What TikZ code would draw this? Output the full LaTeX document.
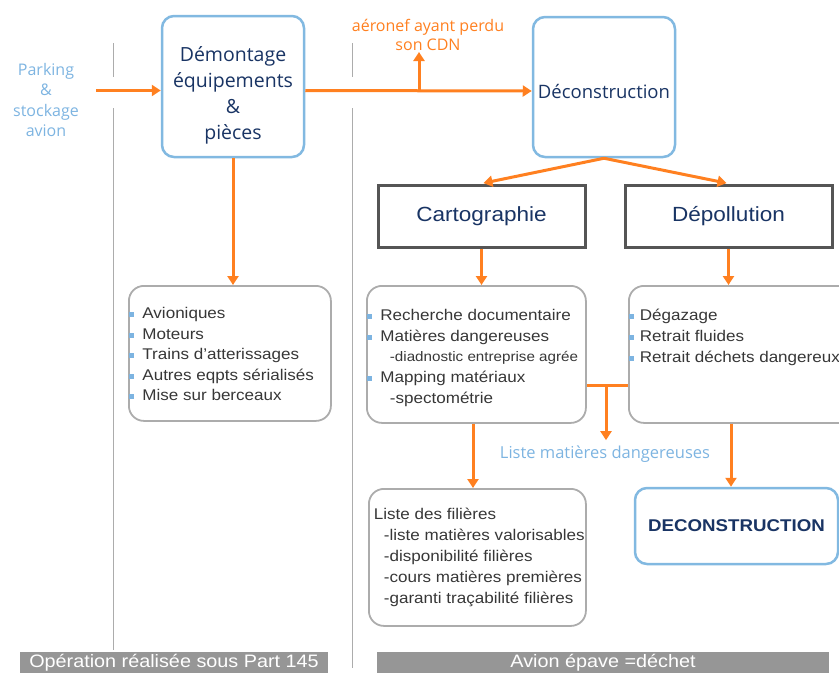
\documentclass[tikz,border=0pt]{standalone}
\usepackage{fontspec}
\setmainfont{Liberation Sans}[FakeStretch=1.1]
\newfontfamily\ouvert{Open Sans}
\usetikzlibrary{arrows.meta,positioning,calc}
\definecolor{orangeflux}{RGB}{255,128,32}
\definecolor{cadrebleu}{RGB}{130,185,225}
\definecolor{bleunuit}{RGB}{25,52,100}
\definecolor{bleuclair}{RGB}{125,180,225}
\definecolor{grisliste}{RGB}{172,172,172}
\definecolor{grisfonce}{RGB}{85,85,85}
\definecolor{gristexte}{RGB}{55,55,55}
\definecolor{grisbande}{RGB}{150,150,150}

\newcommand{\fsize}[2]{\fontsize{#1}{#2}\selectfont}
\newcommand{\puce}[1][13.5pt]{\makebox[#1][l]{\textcolor{bleuclair}{\rule[1.5pt]{5pt}{5pt}}}}

\begin{document}
\begin{tikzpicture}[
      x=1pt, y=-1pt,
      bleubox/.style={rectangle, draw=cadrebleu, line width=2.5pt, rounded corners=12pt, fill=white, text=bleunuit, align=center},
      titrebox/.style={rectangle, draw=grisfonce, line width=3pt, fill=white, text=bleunuit, minimum width=207pt, minimum height=62pt, font=\fsize{20.5}{24}},
      listebox/.style={rectangle, draw=grisliste, line width=1.8pt, rounded corners=15pt, anchor=north west, inner sep=0pt, text=gristexte},
      bandeau/.style={rectangle, fill=grisbande, text=white, inner sep=0pt, minimum height=21pt, font=\fsize{18}{20}},
      fleche/.style={-{Triangle[length=9pt,width=11pt]}, line width=3pt, orangeflux},
      trait/.style={line width=3pt, orangeflux},
      separ/.style={draw=grisliste, line width=0.8pt}
    ]
      \useasboundingbox (0,0) rectangle (839,675);
      % separations
      \draw[separ] (113,43) -- (113,77) (113,108) -- (113,650);
      \draw[separ] (352,43) -- (352,77) (352,108) -- (352,668);

      % haut
      \node[text=bleuclair, align=center, font=\ouvert\fsize{16}{20.3}] (parking) at (46,100) {Parking\\\&\\stockage\\avion};
      \node[bleubox, minimum width=142pt, minimum height=141pt, font=\ouvert\fsize{19.5}{26}] (dem) at (233,86.5) {\rule{0pt}{32.5pt}Démontage\\équipements\\\&\\pièces};
      \node[bleubox, minimum width=142pt, minimum height=140pt, font=\ouvert\fsize{18.5}{22}] (decon) at (604,87) {\rule{0pt}{23.5pt}Déconstruction};
      \node[text=orangeflux, align=center, anchor=south, inner sep=1pt, font=\ouvert\fsize{16}{19}] (cdn) at (428,52) {aéronef ayant perdu\\son CDN};
      \coordinate (branche) at (419,91);

      \node[titrebox] (carto) at (481.5,216) {Cartographie};
      \node[titrebox] (depol) at (728.5,216) {Dépollution};

      % listes
      \node[listebox] (l_dem) at (128,285) {\parbox[t][135pt][t]{202pt}{\fsize{15.5}{20.5}%
        \rule{0pt}{33pt}\puce Avioniques\\
        \puce Moteurs\\
        \puce Trains d'atterissages\\
        \puce Autres eqpts sérialisés\\
        \puce Mise sur berceaux}};
      \node[listebox] (l_carto) at (366,285) {\parbox[t][137pt][t]{219pt}{\fsize{15.5}{20.7}%
        \rule{0pt}{34.5pt}\puce Recherche documentaire\\
        \puce Matières dangereuses\\
        \hspace*{23pt}{\fsize{13.8}{20.7}-diadnostic entreprise agrée}\\
        \puce Mapping matériaux\\
        \hspace*{23pt}-spectométrie}};
      \node[listebox] (l_depol) at (628,285) {\parbox[t][137pt][t]{230pt}{\fsize{15.5}{21}%
        \rule{0pt}{35pt}\puce[11pt]Dégazage\\
        \puce[11pt]Retrait fluides\\
        \puce[11pt]Retrait déchets dangereux}};
      \node[listebox] (filieres) at (368,488) {\parbox[t][137pt][t]{217pt}{\fsize{15.5}{20.8}%
        \rule{0pt}{31pt}\hspace*{5pt}Liste des filières\\
        \hspace*{15pt}-liste matières valorisables\\
        \hspace*{15pt}-disponibilité filières\\
        \hspace*{15pt}-cours matières premières\\
        \hspace*{15pt}-garanti traçabilité filières}};
      \node[bleubox, minimum width=203pt, minimum height=76pt, font=\bfseries\fsize{17}{20}] (final) at (736.5,526) {DECONSTRUCTION};

      \coordinate (jonction) at (606,385);
      \coordinate (axe_carto) at (473,0);
      \coordinate (axe_depol) at (731,0);
      \node[text=bleuclair, font=\ouvert\fsize{16.5}{20}] (lmd) at (605,454) {Liste matières dangereuses};

      % bandeaux
      \node[bandeau, minimum width=308pt] (part145) at (174,662.5) {Opération réalisée sous Part 145};
      \node[bandeau, minimum width=452pt] (epave) at (603,662.5) {Avion épave =déchet};

      % fleches
      \draw[fleche] ($(parking.east |- dem.west)+(14,4)$) -- ([yshift=-4pt]dem.west);
      \draw[fleche] ([yshift=-4pt]dem.east) -- ([yshift=-4pt]decon.west);
      \draw[fleche] (branche) -- (branche |- cdn.south);
      \draw[fleche, shorten >=2pt] (decon.south) -- (carto.north);
      \draw[fleche, shorten >=2pt] (decon.south) -- (depol.north);
      \draw[fleche] (dem.south) -- (dem.south |- l_dem.north);
      \draw[fleche] (carto.south) -- (carto.south |- l_carto.north);
      \draw[fleche] (depol.south) -- (depol.south |- l_depol.north);
      \draw[fleche] (axe_carto |- l_carto.south) -- (axe_carto |- filieres.north);
      \draw[fleche] (axe_depol |- l_depol.south) -- (axe_depol |- final.north);
      \draw[trait] (jonction -| l_carto.east) -- (jonction -| l_depol.west);
      \draw[fleche] (jonction) -- ([yshift=2pt]jonction |- lmd.north);
    \end{tikzpicture}
\end{document}
